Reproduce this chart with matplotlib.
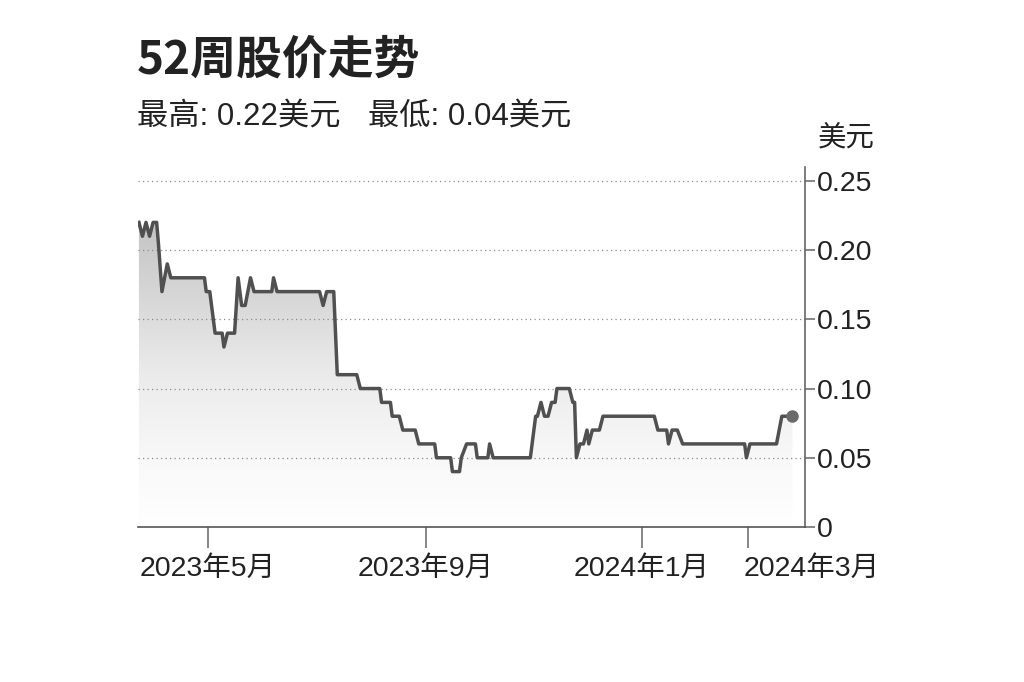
#!/usr/bin/env python3
"""52-week share price chart (grey step line with gradient fill)."""

import matplotlib
import matplotlib.pyplot as plt
import matplotlib.dates as mdates
import matplotlib.transforms as mtransforms
import numpy as np
import pandas as pd
from matplotlib.colors import LinearSegmentedColormap

matplotlib.use("Agg")
plt.rcParams["font.family"] = ["Liberation Sans", "Noto Sans CJK SC"]

# price trace (USD)
DATES = [
    "2023-03-23", "2023-03-25", "2023-03-27", "2023-03-29", "2023-03-31",
    "2023-04-02", "2023-04-03", "2023-04-05", "2023-04-08", "2023-04-10",
    "2023-04-29", "2023-04-30", "2023-05-02", "2023-05-05", "2023-05-09",
    "2023-05-10", "2023-05-12", "2023-05-16", "2023-05-18", "2023-05-20",
    "2023-05-22", "2023-05-25", "2023-05-27", "2023-06-06", "2023-06-07",
    "2023-06-09", "2023-07-03", "2023-07-05", "2023-07-07", "2023-07-11",
    "2023-07-13", "2023-07-24", "2023-07-26", "2023-08-06", "2023-08-07",
    "2023-08-12", "2023-08-13", "2023-08-17", "2023-08-19", "2023-08-26",
    "2023-08-28", "2023-09-06", "2023-09-07", "2023-09-15", "2023-09-16",
    "2023-09-20", "2023-09-21", "2023-09-24", "2023-09-29", "2023-09-30",
    "2023-10-06", "2023-10-07", "2023-10-09", "2023-10-30", "2023-11-02",
    "2023-11-03", "2023-11-05", "2023-11-07", "2023-11-09", "2023-11-11",
    "2023-11-13", "2023-11-14", "2023-11-21", "2023-11-23", "2023-11-24",
    "2023-11-25", "2023-11-27", "2023-11-29", "2023-12-01", "2023-12-02",
    "2023-12-04", "2023-12-08", "2023-12-10", "2024-01-08", "2024-01-10",
    "2024-01-15", "2024-01-16", "2024-01-18", "2024-01-21", "2024-01-24",
    "2024-02-28", "2024-02-29", "2024-03-02", "2024-03-17", "2024-03-20",
    "2024-03-26",
]
PRICES = [
    0.22, 0.21, 0.22, 0.21, 0.22,
    0.22, 0.205, 0.17, 0.19, 0.18,
    0.18, 0.17, 0.17, 0.14, 0.14,
    0.13, 0.14, 0.14, 0.18, 0.16,
    0.16, 0.18, 0.17, 0.17, 0.18,
    0.17, 0.17, 0.16, 0.17, 0.17,
    0.11, 0.11, 0.10, 0.10, 0.09,
    0.09, 0.08, 0.08, 0.07, 0.07,
    0.06, 0.06, 0.05, 0.05, 0.04,
    0.04, 0.05, 0.06, 0.06, 0.05,
    0.05, 0.06, 0.05, 0.05, 0.08,
    0.08, 0.09, 0.08, 0.08, 0.09,
    0.09, 0.10, 0.10, 0.09, 0.09,
    0.05, 0.06, 0.06, 0.07, 0.06,
    0.07, 0.07, 0.08, 0.08, 0.07,
    0.07, 0.06, 0.07, 0.07, 0.06,
    0.06, 0.05, 0.06, 0.06, 0.08,
    0.08,
]

TICK_DATES = ["2023-05-01", "2023-09-01", "2024-01-01", "2024-03-01"]
TICK_LABELS = ["2023年5月", "2023年9月", "2024年1月", "2024年3月"]
Y_TICKS = [0, 0.05, 0.10, 0.15, 0.20, 0.25]
Y_LABELS = ["0", "0.05", "0.10", "0.15", "0.20", "0.25"]

TITLE = "52周股价走势"
HIGH_TEXT = "最高: 0.22美元"
LOW_TEXT = "最低: 0.04美元"
UNIT = "美元"

INK = "#222222"
LINE = "#505050"
AXIS = "#666666"


def main() -> None:
    fig = plt.figure(figsize=(10.24, 6.82), dpi=100)
    fig.patch.set_facecolor("white")
    ax = fig.add_axes([0.1348, 0.2273, 0.786 - 0.1348, 0.7551 - 0.2273])

    x = mdates.date2num(pd.to_datetime(DATES))
    y = np.asarray(PRICES, dtype=float)

    x0 = mdates.date2num(pd.Timestamp("2023-03-22 12:00"))
    x1 = mdates.date2num(pd.Timestamp("2024-04-02"))

    # gradient fill under the line, clipped to the area below the trace
    poly = ax.fill_between(x, y, 0, color="none", lw=0)
    clip = poly.get_paths()[0]
    grad = np.linspace(0, 1, 256).reshape(-1, 1)
    cmap = LinearSegmentedColormap.from_list(
        "fade", [(0.0, "#ffffff"), (0.25, "#f7f7f7"), (0.5, "#ebebeb"), (1.0, "#c4c4c4")])
    im = ax.imshow(grad, extent=[x0, x1, 0, 0.22], origin="lower", aspect="auto",
                   cmap=cmap, zorder=1, interpolation="bilinear")
    im.set_clip_path(clip, transform=ax.transData)

    for val in Y_TICKS[1:]:
        ax.axhline(val, color="#8c8c8c", lw=0.9, ls=(0, (1, 2.6)), zorder=2)

    ax.plot(x, y, color=LINE, lw=2.5, zorder=3, solid_joinstyle="round")
    ax.plot(x[-1], y[-1], "o", color="#6a6a6a", ms=8, zorder=4)

    ax.set_xlim(x0, x1)
    ax.set_ylim(0, 0.26)

    ax.set_xticks(mdates.date2num(pd.to_datetime(TICK_DATES)))
    ax.set_xticklabels(TICK_LABELS)
    ax.set_yticks(Y_TICKS)
    ax.set_yticklabels(Y_LABELS)
    ax.yaxis.tick_right()

    ax.tick_params(axis="x", direction="out", length=15, width=1.1, color=AXIS,
                   pad=6, labelsize=20.5, labelcolor=INK)
    ax.tick_params(axis="y", direction="out", length=7, width=1.1, color=AXIS,
                   pad=2, labelsize=20.5, labelcolor=INK)

    last = ax.get_xticklabels()[-1]
    last.set_ha("left")
    last.set_transform(last.get_transform()
                       + mtransforms.ScaledTranslation(-0.05, 0, fig.dpi_scale_trans))

    for side in ("top", "left"):
        ax.spines[side].set_visible(False)
    ax.spines["right"].set_color(AXIS)
    ax.spines["right"].set_linewidth(1.2)
    ax.spines["bottom"].set_color("#555555")
    ax.spines["bottom"].set_linewidth(1.2)
    ax.set_facecolor("white")

    fig.text(0.1338, 0.8915, TITLE, fontsize=33, fontweight="bold",
             family=["Noto Sans CJK SC"], color=INK, va="baseline")
    fig.text(0.1338, 0.818, HIGH_TEXT, fontsize=22.5, color=INK, va="baseline")
    fig.text(0.3594, 0.818, LOW_TEXT, fontsize=22.5, color=INK, va="baseline")
    fig.text(0.799, 0.786, UNIT, fontsize=20.5, color=INK, va="baseline")

    fig.savefig("out.png", dpi=100, facecolor="white")
    plt.close(fig)


if __name__ == "__main__":
    main()
